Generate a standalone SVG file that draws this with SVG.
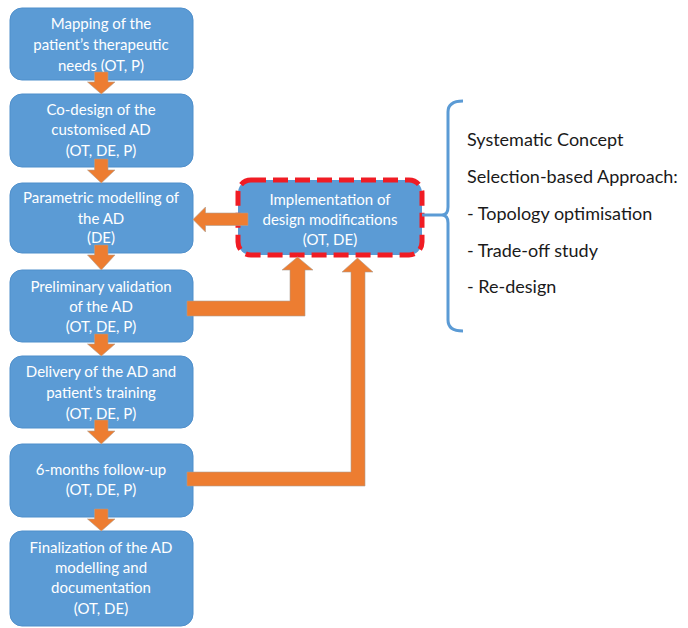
<svg xmlns="http://www.w3.org/2000/svg" width="688" height="628" viewBox="0 0 688 628">
<style>
.box{fill:#5B9BD5;stroke:#4F8FCB;stroke-width:1}
.bt{font-family:Lato,"Liberation Sans",sans-serif;font-size:15px;fill:#FFFFFF;text-anchor:middle}
.arr{fill:#ED7D31;stroke:#B0A090;stroke-width:0.6}
.side{font-family:Lato,"Liberation Sans",sans-serif;font-size:18px;fill:#1A1A1A}
</style>
<rect width="688" height="628" fill="#FFFFFF"/>
<g id="n1"><rect class="box" x="10" y="8" width="183" height="72" rx="12"/>
<text class="bt" x="101" y="29">Mapping of the</text><text class="bt" x="101" y="50">patient’s therapeutic</text><text class="bt" x="101" y="71">needs (OT, P)</text></g>
<g id="n2"><rect class="box" x="10" y="94" width="183" height="73" rx="12"/>
<text class="bt" x="101" y="115">Co-design of the</text><text class="bt" x="101" y="135">customised AD</text><text class="bt" x="101" y="156">(OT, DE, P)</text></g>
<g id="n3"><rect class="box" x="10" y="183" width="183" height="70" rx="12"/>
<text class="bt" x="101" y="203">Parametric modelling of</text><text class="bt" x="101" y="224">the AD</text><text class="bt" x="101" y="243">(DE)</text></g>
<g id="n4"><rect class="box" x="10" y="270" width="183" height="72" rx="12"/>
<text class="bt" x="101" y="292">Preliminary validation</text><text class="bt" x="101" y="312">of the AD</text><text class="bt" x="101" y="332">(OT, DE, P)</text></g>
<g id="n5"><rect class="box" x="10" y="356" width="183" height="72" rx="12"/>
<text class="bt" x="101" y="377">Delivery of the AD and</text><text class="bt" x="101" y="398">patient’s training</text><text class="bt" x="101" y="419">(OT, DE, P)</text></g>
<g id="n6"><rect class="box" x="10" y="444" width="183" height="73" rx="12"/>
<text class="bt" x="101" y="475">6-months follow-up</text><text class="bt" x="101" y="495">(OT, DE, P)</text></g>
<g id="n7"><rect class="box" x="10" y="531" width="183" height="95" rx="12"/>
<text class="bt" x="101" y="553">Finalization of the AD</text><text class="bt" x="101" y="573">modelling and</text><text class="bt" x="101" y="593">documentation</text><text class="bt" x="101" y="614">(OT, DE)</text></g>
<g id="n8"><rect x="238" y="180" width="184" height="75" rx="13" fill="#5B9BD5" stroke="#F01C24" stroke-width="5" stroke-dasharray="15 7"/>
<text class="bt" x="330" y="205">Implementation of</text><text class="bt" x="330" y="225">design modifications</text><text class="bt" x="330" y="245">(OT, DE)</text></g>
<g id="connectors">
<path class="arr" d="M94.5,72 H108 V82 H115 L101.3,94 L87.5,82 H94.5 Z"/>
<path class="arr" d="M94.5,159 H108 V170 H115 L101.3,183 L87.5,170 H94.5 Z"/>
<path class="arr" d="M94.5,245 H108 V255 H115 L101.3,270 L87.5,255 H94.5 Z"/>
<path class="arr" d="M94.5,334 H108 V344 H115 L101.3,356 L87.5,344 H94.5 Z"/>
<path class="arr" d="M94.5,420 H108 V431 H115 L101.3,444 L87.5,431 H94.5 Z"/>
<path class="arr" d="M94.5,509 H108 V519 H115 L101.3,531 L87.5,519 H94.5 Z"/>
<path class="arr" d="M248,213 V225.5 H205.5 V232 L193,219.5 L205.5,207 V213 Z"/>
<path class="arr" d="M187,301 H290 V270 H282 L297.5,257 L313,270 H305 V316 H187 Z"/>
<path class="arr" d="M187,472 H351 V272 H342 L357.5,258 L373,272 H365 V486 H187 Z"/>
</g>
<g id="bracket" fill="none" stroke="#5B9BD5" stroke-width="3">
<path d="M463,101 Q448,101 448,112 L448,207 Q448,215 442,215 Q448,215 448,223 L448,320 Q448,331 463,331"/>
<path d="M422,215 H442"/>
</g>
<g id="side-text">
<text class="side" x="467" y="146">Systematic Concept</text>
<text class="side" x="467" y="183">Selection-based Approach:</text>
<text class="side" x="467" y="220">- Topology optimisation</text>
<text class="side" x="467" y="257">- Trade-off study</text>
<text class="side" x="467" y="293">- Re-design</text>
</g>
</svg>
